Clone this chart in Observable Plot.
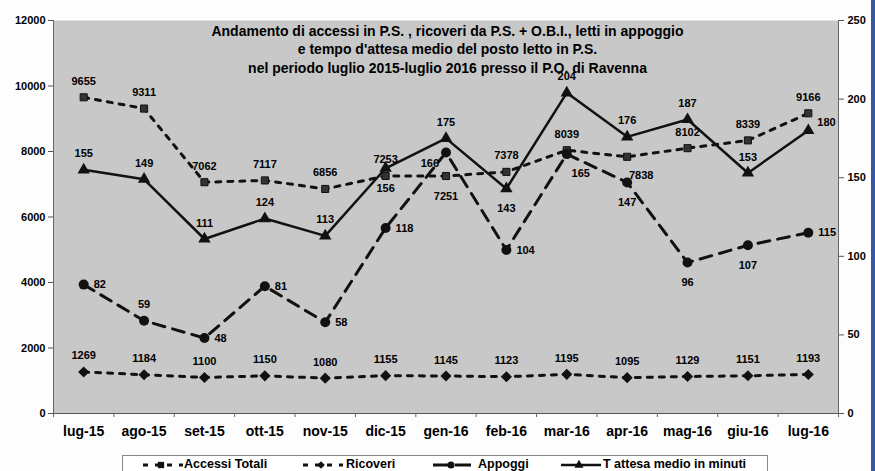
<!DOCTYPE html>
<html>
<head>
<meta charset="utf-8">
<script src="https://cdn.jsdelivr.net/npm/d3@7"></script>
<script src="https://cdn.jsdelivr.net/npm/@observablehq/plot@0.6"></script>
<style>
  html, body { margin: 0; padding: 0; background: #fff; }
  #wrap { position: relative; width: 875px; height: 471px; overflow: hidden; background: #fdfdfd; font-family: "Liberation Sans", Arial, sans-serif; }
  #chart { position: absolute; left: 0; top: 0; }
  #edge { position: absolute; left: 871px; top: 0; width: 4px; height: 471px; background: #3657a6; }
  #legend { position: absolute; left: 122px; top: 455px; width: 646px; height: 22px; border: 1px solid #888; background: #fff; box-sizing: border-box; }
  .key { position: absolute; top: 2px; }
  .ltxt { position: absolute; top: 1px; font-size: 12.5px; font-weight: bold; color: #000; white-space: nowrap; }
</style>
</head>
<body>
<div id="wrap">
  <div id="chart"></div>
  <div id="legend"></div>
  <div id="edge"></div>
</div>
<script>
// ---------- data ----------
const months = ["lug-15","ago-15","set-15","ott-15","nov-15","dic-15","gen-16","feb-16","mar-16","apr-16","mag-16","giu-16","lug-16"];
const accessiTotali = [9655, 9311, 7062, 7117, 6856, 7253, 7251, 7378, 8039, 7838, 8102, 8339, 9166];
const ricoveri      = [1269, 1184, 1100, 1150, 1080, 1155, 1145, 1123, 1195, 1095, 1129, 1151, 1193];
const appoggi       = [82, 59, 48, 81, 58, 118, 166, 104, 165, 147, 96, 107, 115];
const attesaMedia   = [155, 149, 111, 124, 113, 156, 175, 143, 204, 176, 187, 153, 180];
const leftTicks  = [0, 2000, 4000, 6000, 8000, 10000, 12000];
const rightTicks = [0, 50, 100, 150, 200, 250];
const titleLines = [
  "Andamento di accessi in P.S. , ricoveri da P.S. + O.B.I., letti in appoggio",
  "e tempo d'attesa medio del posto letto in P.S.",
  "nel periodo luglio 2015-luglio 2016 presso il P.O. di Ravenna"
];
const seriesNames = ["Accessi Totali", "Ricoveri", "Appoggi", "T attesa medio in minuti"];
// label placement codes (t=above, b=below, r=right, br=below-right, bl=below-left, tr=upper-right)
const accessiPos = ["t","t","t","t","t","t","b","t","t","br","t","t","t"];
const ricoveriPos = months.map(() => "t");
const appoggiPos = ["r","t","r","r","r","r","bl","r","br","b","b","b","r"];
const attesaPos  = ["t","t","t","t","t","b","t","b","t","t","t","t","tr"];

// ---------- chart ----------
const LEFT_MAX = 12000, RIGHT_MAX = 250;
const K = LEFT_MAX / RIGHT_MAX; // right-axis values drawn on the left scale

const rows = months.map((m, i) => ({
  i, m,
  acc: accessiTotali[i], ric: ricoveri[i], app: appoggi[i], att: attesaMedia[i],
  pAcc: accessiPos[i], pRic: ricoveriPos[i], pApp: appoggiPos[i], pAtt: attesaPos[i]
}));

const offsets = {
  t:  {dx: 0,  dy: -16, textAnchor: "middle"},
  b:  {dx: 0,  dy: 20,  textAnchor: "middle"},
  r:  {dx: 10, dy: 0,   textAnchor: "start"},
  br: {dx: 14, dy: 19,  textAnchor: "middle"},
  bl: {dx: -7, dy: 11,  textAnchor: "end"},
  tr: {dx: 9,  dy: -8,  textAnchor: "start"}
};

function labels(yFn, valKey, posKey) {
  return Object.entries(offsets).map(([code, o]) =>
    Plot.text(rows.filter(d => d[posKey] === code), {
      x: "i", y: yFn, text: d => String(d[valKey]),
      dx: o.dx, dy: o.dy, textAnchor: o.textAnchor,
      fontSize: 11, fontWeight: "bold", fill: "#000"
    })
  );
}

const ink = "#111";

const chart = Plot.plot({
  width: 875,
  height: 452,
  marginTop: 20,
  marginBottom: 39,
  marginLeft: 53,
  marginRight: 37,
  style: {fontFamily: "'Liberation Sans', Arial, sans-serif", fontWeight: "bold", fontSize: "11px", background: "transparent", color: "#000"},
  x: {domain: [-0.5, months.length - 0.5], axis: null},
  y: {domain: [0, LEFT_MAX], axis: null},
  marks: [
    Plot.frame({fill: "#c8c8c8", stroke: "none"}),
    Plot.ruleX([-0.5, months.length - 0.5], {stroke: "#666", strokeWidth: 1}),
    Plot.ruleY([0], {stroke: "#555", strokeWidth: 1}),
    // axes
    Plot.axisY(leftTicks, {anchor: "left", tickSize: 5, tickPadding: 3, label: null, tickFormat: d => String(d), fontSize: 11, fontWeight: "bold", stroke: "#555"}),
    Plot.axisY(rightTicks.map(v => v * K), {anchor: "right", tickSize: 5, tickPadding: 4, label: null, tickFormat: d => String(Math.round(d / K)), fontSize: 11, fontWeight: "bold", stroke: "#555"}),
    Plot.axisX(d3.range(months.length), {anchor: "bottom", tickSize: 0, tickPadding: 13, label: null, tickFormat: i => months[i], fontSize: 14, fontWeight: "bold"}),
    Plot.axisX(d3.range(months.length + 1).map(i => i - 0.5), {anchor: "bottom", tickSize: 4, label: null, tickFormat: () => "", stroke: "#666"}),
    // Ricoveri
    Plot.line(rows, {x: "i", y: "ric", stroke: ink, strokeWidth: 3, strokeDasharray: "5,7"}),
    Plot.dot(rows, {x: "i", y: "ric", symbol: "diamond2", r: 5, fill: ink, stroke: null}),
    // Accessi Totali
    Plot.line(rows, {x: "i", y: "acc", stroke: ink, strokeWidth: 3, strokeDasharray: "5,7"}),
    Plot.dot(rows, {x: "i", y: "acc", symbol: "square", r: 4, fill: "#333", stroke: "#111", strokeWidth: 1}),
    // Appoggi (right axis)
    Plot.line(rows, {x: "i", y: d => d.app * K, stroke: ink, strokeWidth: 3, strokeDasharray: "12,8"}),
    Plot.dot(rows, {x: "i", y: d => d.app * K, symbol: "circle", r: 5, fill: ink, stroke: null}),
    // T attesa (right axis)
    Plot.line(rows, {x: "i", y: d => d.att * K, stroke: ink, strokeWidth: 2.5}),
    Plot.dot(rows, {x: "i", y: d => d.att * K, symbol: "triangle", r: 4.6, fill: ink, stroke: null}),
    // value labels
    ...labels("ric", "ric", "pRic"),
    ...labels("acc", "acc", "pAcc"),
    ...labels(d => d.app * K, "app", "pApp"),
    ...labels(d => d.att * K, "att", "pAtt"),
    // title
    Plot.text([titleLines.join("\n")], {frameAnchor: "top", lineAnchor: "top", dy: 2, dx: 1.5, lineHeight: 1.32, fontSize: 14, fontWeight: "bold", fill: "#000"})
  ]
});
document.getElementById("chart").appendChild(chart);

// ---------- legend ----------
const legend = document.getElementById("legend");
const keyDefs = [
  {left: 18,  textLeft: 61,  dash: "5,7", sym: "square"},
  {left: 178, textLeft: 223, dash: "5,7", sym: "diamond"},
  {left: 308, textLeft: 355, dash: "16,6", sym: "circle"},
  {left: 436, textLeft: 480, dash: null, sym: "triangle"}
];
keyDefs.forEach((k, idx) => {
  const ns = "http://www.w3.org/2000/svg";
  const svg = document.createElementNS(ns, "svg");
  svg.setAttribute("width", 42); svg.setAttribute("height", 16);
  svg.setAttribute("class", "key");
  svg.style.left = k.left + "px";
  const line = document.createElementNS(ns, "line");
  line.setAttribute("x1", 2); line.setAttribute("x2", 42); line.setAttribute("y1", 7); line.setAttribute("y2", 7);
  line.setAttribute("stroke", "#111"); line.setAttribute("stroke-width", k.dash ? 3 : 2.5);
  if (k.dash) line.setAttribute("stroke-dasharray", k.dash);
  svg.appendChild(line);
  const typeMap = {square: d3.symbolSquare, diamond: d3.symbolSquare, circle: d3.symbolCircle, triangle: d3.symbolTriangle};
  const sizes = {square: 40, diamond: 30, circle: 40, triangle: 36};
  const p = document.createElementNS(ns, "path");
  p.setAttribute("d", d3.symbol(typeMap[k.sym], sizes[k.sym])());
  p.setAttribute("transform", "translate(20,7)" + (k.sym === "diamond" ? " rotate(45)" : ""));
  p.setAttribute("fill", "#111");
  svg.appendChild(p);
  legend.appendChild(svg);
  const t = document.createElement("div");
  t.className = "ltxt";
  t.style.left = k.textLeft + "px";
  t.textContent = seriesNames[idx];
  legend.appendChild(t);
});
</script>
</body>
</html>
